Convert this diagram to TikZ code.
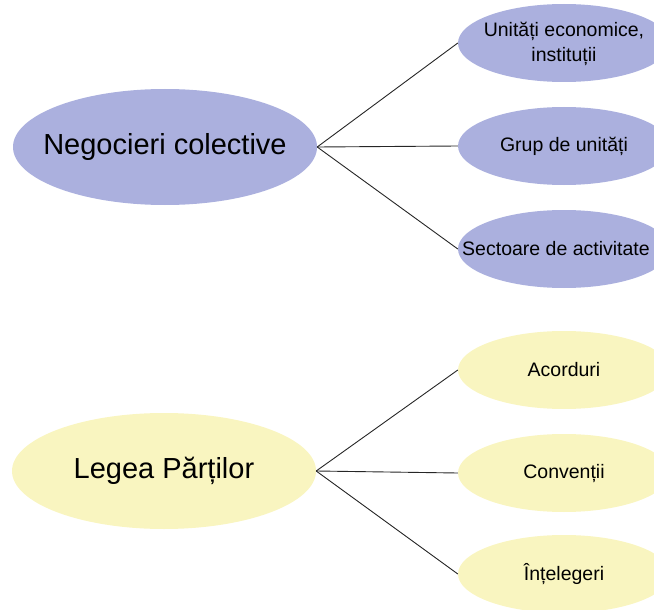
\documentclass[tikz,border=0pt]{standalone}
\usepackage{fontspec}
\setmainfont{Liberation Sans}
\usetikzlibrary{shapes.geometric}
\definecolor{lilac}{RGB}{171,176,222}
\definecolor{cream}{RGB}{249,245,192}
\tikzset{
  bigell/.style={ellipse, inner sep=0pt, minimum width=304pt, minimum height=116pt, font=\fontsize{29}{34}\selectfont},
  smallell/.style={ellipse, inner sep=0pt, minimum width=212pt, minimum height=78pt, font=\fontsize{19.5}{24}\selectfont},
  blue/.style={fill=lilac},
  yellow/.style={fill=cream},
  conn/.style={draw=black!85, line width=0.9pt}
}
\begin{document}
\begin{tikzpicture}[x=1pt,y=-1pt]
\useasboundingbox (0,0) rectangle (654,610);
\clip (0,0) rectangle (654,610);
% top group
\node[bigell, blue] (nc) at (165,147) {\makebox[0pt]{Negocieri colective}};
\node[smallell, blue] (u1) at (564,43) {\makebox[0pt]{\begin{tabular}{@{}c@{}}Unități economice,\\[1pt] instituții\end{tabular}}\rule{0pt}{32pt}};
\node[smallell, blue] (u2) at (564,146) {\makebox[0pt]{Grup de unități}};
\node[smallell, blue] (u3) at (564,249) {\makebox[0pt]{\hspace*{-16pt}Sectoare de activitate}};
\coordinate (f1) at (nc.east);
\draw[conn] (f1) -- (u1.west);
\draw[conn] (f1) -- (u2.west);
\draw[conn] (f1) -- (u3.west);
% bottom group
\node[bigell, yellow] (lp) at (164,471) {\makebox[0pt]{Legea Părților}};
\node[smallell, yellow] (a1) at (564,370) {\makebox[0pt]{Acorduri}};
\node[smallell, yellow] (a2) at (564,473) {\makebox[0pt]{Convenții}};
\node[smallell, yellow] (a3) at (564,574) {\makebox[0pt]{Înțelegeri}};
\coordinate (f2) at (lp.east);
\draw[conn] (f2) -- (a1.west);
\draw[conn] (f2) -- (a2.west);
\draw[conn] (f2) -- (a3.west);
\end{tikzpicture}
\end{document}
